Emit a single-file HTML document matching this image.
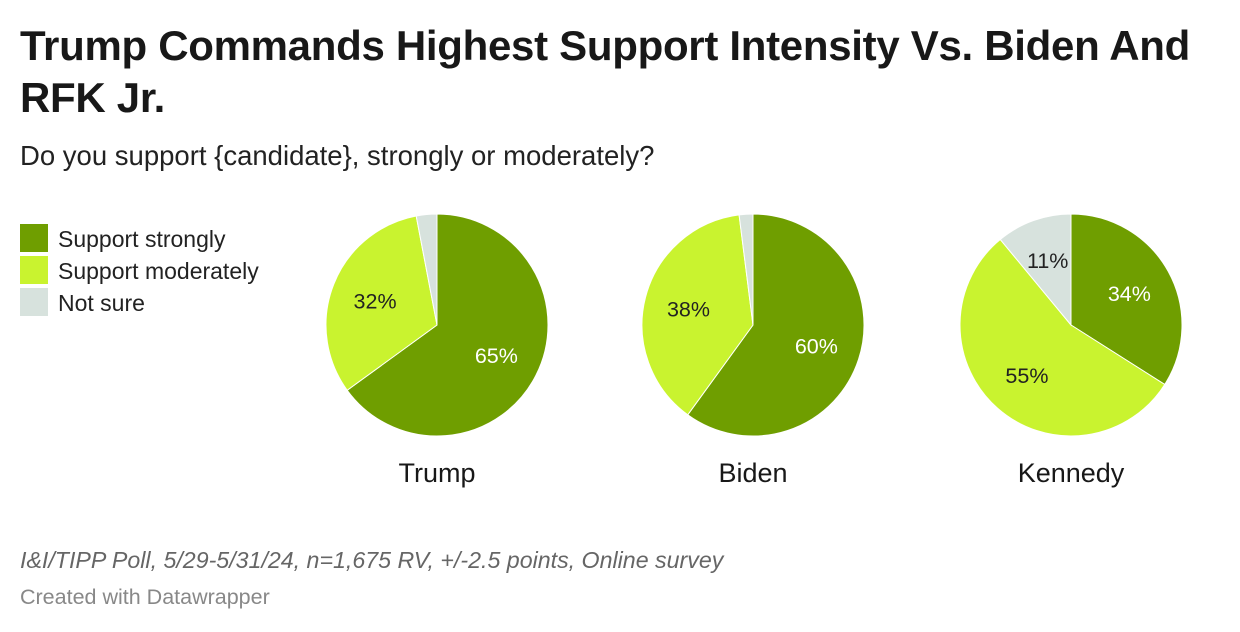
<!DOCTYPE html>
<html><head><meta charset="utf-8">
<style>
body{margin:0;background:#fff;width:1240px;height:632px;overflow:hidden;font-family:"Liberation Sans",Arial,sans-serif;color:#181818}
#title{position:absolute;left:20px;top:20px;width:1220px;font-size:42px;font-weight:bold;line-height:52px;margin:0;letter-spacing:-0.3px;white-space:nowrap}
#sub{position:absolute;left:20px;top:140px;font-size:27.5px;color:#222}
.leg{position:absolute;left:20px;font-size:23px;color:#222;height:30px;line-height:30px}
.leg span{display:inline-block;width:28px;height:28px;vertical-align:top;margin-right:10px}
#foot{position:absolute;left:20px;top:547px;font-size:23.2px;font-style:italic;color:#666}
#credit{position:absolute;left:20px;top:585px;font-size:21.5px;color:#888}
svg{position:absolute;left:0;top:0}
</style></head><body>
<h1 id="title">Trump Commands Highest Support Intensity Vs. Biden And<br>RFK Jr.</h1>
<div id="sub">Do you support {candidate}, strongly or moderately?</div>
<div class="leg" style="top:224px"><span style="background:#6f9e00"></span>Support strongly</div>
<div class="leg" style="top:256px"><span style="background:#c9f32f"></span>Support moderately</div>
<div class="leg" style="top:288px"><span style="background:#d7e2dd"></span>Not sure</div>
<svg id="chart" width="1240" height="632"></svg>
<div id="foot">I&amp;I/TIPP Poll, 5/29-5/31/24, n=1,675 RV, +/-2.5 points, Online survey</div>
<div id="credit">Created with Datawrapper</div>
<script>
const candidates=["Trump","Biden","Kennedy"];
const strongly=[65,60,34];
const moderately=[32,38,55];
const notSure=[3,2,11];
const colors=["#6f9e00","#c9f32f","#d7e2dd"];
const textColors=["#fff","#222","#222"];
const NS="http://www.w3.org/2000/svg";
const svg=document.getElementById('chart');
const centersX=[437,753,1071], cy=325, R=111;
function pt(cx,a,r){return [cx+r*Math.sin(a),cy-r*Math.cos(a)];}
candidates.forEach((c,i)=>{
  const vals=[strongly[i],moderately[i],notSure[i]];
  const tot=vals.reduce((a,b)=>a+b,0);
  let a0=0;const cx=centersX[i];
  const g=document.createElementNS(NS,'g');
  
  
  svg.appendChild(g);
  vals.forEach((v,j)=>{
    const a1=a0+v/tot*2*Math.PI;
    const p0=pt(cx,a0,R),p1=pt(cx,a1,R);
    const path=document.createElementNS(NS,'path');
    path.setAttribute('d',`M${cx},${cy}L${p0[0]},${p0[1]}A${R},${R} 0 ${a1-a0>Math.PI?1:0} 1 ${p1[0]},${p1[1]}Z`);
    path.setAttribute('fill',colors[j]);path.setAttribute('stroke','#fff');path.setAttribute('stroke-width','1');
    
    
    g.appendChild(path);
    if(v>=5){
      const m=pt(cx,(a0+a1)/2,v<15?R*0.62:R*0.6);
      const t=document.createElementNS(NS,'text');
      t.setAttribute('x',m[0]);t.setAttribute('y',m[1]+8);
      t.setAttribute('text-anchor','middle');t.setAttribute('font-size','21.5');
      t.setAttribute('fill',textColors[j]);
      
      
      t.textContent=v+'%';g.appendChild(t);
    }
    a0=a1;
  });
  const n=document.createElementNS(NS,'text');
  n.setAttribute('x',cx);n.setAttribute('y',482);n.setAttribute('text-anchor','middle');
  n.setAttribute('font-size','27');n.setAttribute('fill','#181818');
  
  
  n.textContent=c;g.appendChild(n);
});
</script>
</body></html>
